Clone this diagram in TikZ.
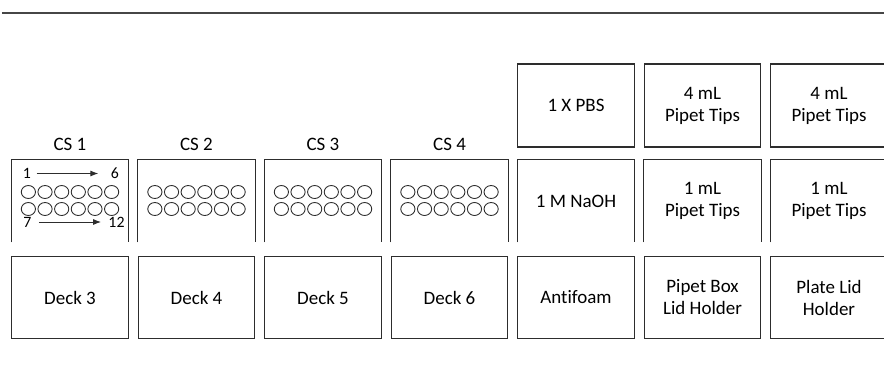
\documentclass[tikz,border=0pt]{standalone}
\usepackage{fontspec}
\setmainfont{Carlito}[Ligatures=NoCommon]
\usepackage{tikz}
\usetikzlibrary{arrows.meta, positioning}
\definecolor{linegray}{RGB}{45,45,45}
\definecolor{rulegray}{RGB}{70,70,70}

\begin{document}
\begin{tikzpicture}[
  every node/.style={font=\fontsize{10.8}{12.5}\selectfont},
  box/.style={rectangle, draw=linegray, line width=0.65pt, minimum width=23.3mm, minimum height=16.3mm, align=center, inner sep=2pt},
  openbox/.style={rectangle, minimum width=23.3mm, minimum height=16.4mm, align=center, inner sep=2pt},
  outline/.style={draw=linegray, line width=0.65pt},
  well/.style={draw=linegray, line width=0.5pt},
  num/.style={font=\fontsize{9}{10}\selectfont, inner sep=1pt},
  arr/.style={-{Latex[length=1.6mm, width=1.2mm]}, line width=0.5pt, draw=linegray}
]
\clip (0,0) rectangle (17.68,7.78);

% rule across the top
\draw[rulegray, line width=1.2pt] (0.04,7.52) -- (17.68,7.52);

% Row 1 (y=5.67): reagent + 4 mL tips (right side only)
\node[box, minimum height=16.6mm] (pbs)    at (11.52, 5.67) {1 X PBS};
\node[box, minimum height=16.6mm] (tips4a) at (14.05, 5.67) {4 mL\\Pipet Tips};
\node[box, minimum height=16.6mm] (tips4b) at (16.58, 5.67) {4 mL\\Pipet Tips};

% Row 2 (y=3.76): cell stacks + NaOH + 1 mL tips, all open at the bottom
\node[openbox] (cs1)    at (1.40,  3.76) {};
\node[openbox] (cs2)    at (3.93,  3.76) {};
\node[openbox] (cs3)    at (6.46,  3.76) {};
\node[openbox] (cs4)    at (8.99,  3.76) {};
\node[openbox] (naoh)   at (11.52, 3.76) {1 M NaOH};
\node[openbox] (tips1a) at (14.05, 3.76) {1 mL\\Pipet Tips};
\node[openbox] (tips1b) at (16.58, 3.76) {1 mL\\Pipet Tips};
\foreach \n in {cs1,cs2,cs3,cs4,naoh,tips1a,tips1b}
  \draw[outline] (\n.south west) |- (\n.north east) -- (\n.south east);

% stack labels above the boxes
\node[above=0.5mm of cs1] (cs1lbl) {CS 1};
\node[above=0.5mm of cs2] (cs2lbl) {CS 2};
\node[above=0.5mm of cs3] (cs3lbl) {CS 3};
\node[above=0.5mm of cs4] (cs4lbl) {CS 4};

% 2 x 6 wells in every stack
\foreach \cx in {1.40,3.93,6.46,8.99}
  \foreach \r in {3.94,3.60}
    \foreach \i in {0,...,5}
      \draw[well] ({\cx+(\i-2.5)*0.333}, \r) ellipse [x radius=0.142, y radius=0.13];

% fill order in CS 1
\node[num] (w1)  at (0.54, 4.31) {1};
\node[num] (w6)  at (2.30, 4.31) {6};
\node[num] (w7)  at (0.55, 3.34) {7};
\node[num] (w12) at (2.33, 3.34) {12};
\draw[arr, shorten <=2pt, shorten >=6pt] (w1) -- (w6);
\draw[arr, shorten <=3pt, shorten >=3pt] (w7) -- (w12);

% Row 3 (y=1.83): decks + holders
\node[box] (deck3)    at (1.40,  1.83) {Deck 3};
\node[box] (deck4)    at (3.93,  1.83) {Deck 4};
\node[box] (deck5)    at (6.46,  1.83) {Deck 5};
\node[box] (deck6)    at (8.99,  1.83) {Deck 6};
\node[box] (antifoam) at (11.52, 1.83) {Antifoam};
\node[box] (lidbox)   at (14.05, 1.83) {Pipet Box\\Lid Holder};
\node[box] (lidplate) at (16.58, 1.83) {Plate Lid\\Holder};
\end{tikzpicture}
\end{document}
